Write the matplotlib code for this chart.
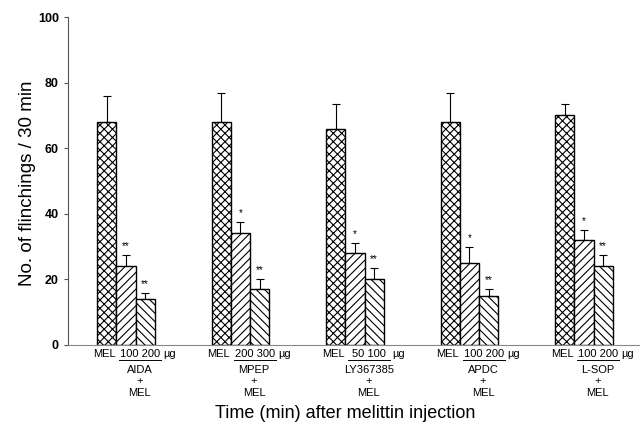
import matplotlib
matplotlib.use("Agg")
import matplotlib.pyplot as plt
import matplotlib.transforms as mtransforms

plt.rcParams['font.family'] = ['Liberation Sans', 'DejaVu Sans']
plt.rcParams['hatch.linewidth'] = 0.8

drugs = ["AIDA", "MPEP", "LY367385", "APDC", "L-SOP"]
doses = ["100 200", "200 300", "50 100", "100 200", "100 200"]
mel_vals = [68, 68, 66, 68, 70]
mel_err = [8, 9, 7.5, 9, 3.5]
low_vals = [24, 34, 28, 25, 32]
low_err = [3.5, 3.5, 3, 5, 3]
high_vals = [14, 17, 20, 15, 24]
high_err = [2, 3, 3.5, 2, 3.5]
low_sig = ["**", "*", "*", "*", "*"]
high_sig = ["**", "**", "**", "**", "**"]
yticks = [0, 20, 40, 60, 80, 100]

fig = plt.figure(figsize=(6.4, 4.28), dpi=100)
ax = fig.add_axes([0.106, 0.194, 0.894, 0.766])

w = 0.168
xs = list(range(len(drugs)))
series = [(mel_vals, mel_err, 'xxxx', -w), (low_vals, low_err, '////', 0), (high_vals, high_err, '\\\\\\\\', w)]
for vals, errs, hatch, off in series:
    pos = [x + off for x in xs]
    ax.bar(pos, vals, width=w, color='white', edgecolor='black', hatch=hatch, linewidth=1.0, zorder=2)
    ax.errorbar(pos, vals, yerr=[[0]*len(vals), errs], fmt='none', ecolor='black',
                elinewidth=0.8, capsize=3, capthick=0.8, zorder=1)

for i in xs:
    ax.text(i, low_vals[i] + low_err[i] + 1.2, low_sig[i], ha='center', va='bottom', fontsize=7)
    ax.text(i + w, high_vals[i] + high_err[i] + 1.2, high_sig[i], ha='center', va='bottom', fontsize=7)

ax.set_xlim(-0.507, 4.49)
ax.set_ylim(0, 100)
ax.set_yticks(yticks)
ax.set_yticklabels([str(t) for t in yticks], fontsize=9, fontweight='bold')
ax.set_xticks([])
for s in ['top', 'right']:
    ax.spines[s].set_visible(False)
ax.spines['left'].set_color('#555555')
ax.spines['bottom'].set_color('#888888')
ax.tick_params(axis='y', length=3, width=0.8, color='#555555')

trans = mtransforms.blended_transform_factory(ax.transData, ax.transAxes)
ly = -0.012
for i in xs:
    ax.text(i - 0.19, ly, "MEL", transform=trans, ha='center', va='top', fontsize=8)
    ax.text(i + 0.125, ly, doses[i], transform=trans, ha='center', va='top', fontsize=8)
    ax.text(i + 0.33, ly, "µg", transform=trans, ha='left', va='top', fontsize=8)
    ax.plot([i - 0.06, i + 0.31], [-0.046, -0.046], transform=trans, color='black',
            lw=0.7, clip_on=False)
    ax.text(i + 0.12, -0.06, drugs[i] + "\n+\nMEL", transform=trans, ha='center', va='top',
            fontsize=8, linespacing=1.2)

ax.set_xlabel("Time (min) after melittin injection", fontsize=13)
ax.xaxis.set_label_coords(0.484, -0.183)
ax.set_ylabel("No. of flinchings / 30 min", fontsize=13.5)
ax.yaxis.set_label_coords(-0.055, 0.492)

fig.savefig("out.png", dpi=100)
